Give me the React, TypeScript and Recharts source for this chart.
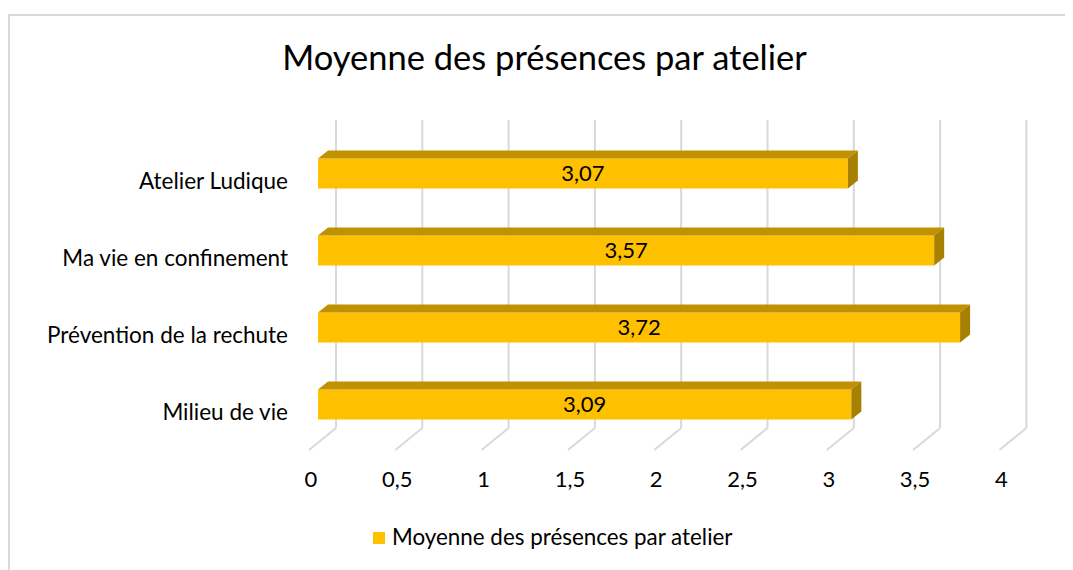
import React from "react";
import { BarChart, Bar, XAxis, YAxis, CartesianGrid, LabelList } from "recharts";

const categories = ["Atelier Ludique", "Ma vie en confinement", "Prévention de la rechute", "Milieu de vie"];
const moyennes = [3.07, 3.57, 3.72, 3.09];
const xTicks = [0, 0.5, 1, 1.5, 2, 2.5, 3, 3.5, 4];
const seriesName = "Moyenne des présences par atelier";
const chartTitle = "Moyenne des présences par atelier";

const data = categories.map((c, i) => ({ name: c, value: moyennes[i] }));

const FONT = "Lato, 'Open Sans', sans-serif";
const DX = 10;
const DY = 8;

const Bar3D = (props: any) => {
  const { x, y, width, height } = props;
  if (width == null || height == null) return null;
  return (
    <g>
      <rect x={x} y={y} width={width} height={height} fill="#FFC000" />
      <polygon
        points={`${x},${y} ${x + DX},${y - DY} ${x + width + DX},${y - DY} ${x + width},${y}`}
        fill="#C09100"
      />
      <polygon
        points={`${x + width},${y} ${x + width + DX},${y - DY} ${x + width + DX},${y + height - DY} ${x + width},${y + height}`}
        fill="#A88000"
      />
    </g>
  );
};

const GridLine = (p: any) => {
  const x = p.x1;
  return (
    <g key={`g-${x}`}>
      <line x1={x + 18} y1={112} x2={x + 18} y2={420} stroke="#D9D9D9" strokeWidth={2} />
      <line x1={x + 18} y1={420} x2={x - 9} y2={442} stroke="#D9D9D9" strokeWidth={2} />
    </g>
  );
};

const XTick = (p: any) => {
  const { x, payload } = p;
  return (
    <text x={x - 7} y={479} textAnchor="middle" fontSize={22} fill="#000" fontFamily={FONT}>
      {String(payload.value).replace(".", ",")}
    </text>
  );
};

const YTick = (p: any) => {
  const { y, payload } = p;
  return (
    <text x={280} y={y + 16} textAnchor="end" fontSize={22.5} fill="#000" fontFamily={FONT}>
      {payload.value}
    </text>
  );
};

export default function App() {
  return (
    <div style={{ position: "relative", width: 1065, height: 562, fontFamily: FONT }}>
      <div
        style={{
          position: "absolute",
          left: 0,
          top: 6,
          width: 1080,
          height: 600,
          borderLeft: "2px solid #D9D9D9",
          borderTop: "2px solid #D9D9D9",
          boxSizing: "border-box",
        }}
      />
      <div style={{ position: "absolute", left: 0, top: 0 }}>
        <BarChart
          width={1065}
          height={562}
          data={data}
          layout="vertical"
          margin={{ top: 126.5, right: 64.6, bottom: 67.5, left: 10 }}
        >
          <CartesianGrid horizontal={false} vertical={GridLine as any} />
          <XAxis
            type="number"
            domain={[0, 4]}
            ticks={xTicks}
            axisLine={false}
            tickLine={false}
            height={60}
            tick={XTick}
            interval={0}
          />
          <YAxis
            type="category"
            dataKey="name"
            width={300}
            axisLine={false}
            tickLine={false}
            tick={YTick}
            interval={0}
          />
          <Bar dataKey="value" name={seriesName} barSize={30} shape={Bar3D} isAnimationActive={false}>
            <LabelList
              dataKey="value"
              position="center"
              formatter={(v: any) => Number(v).toFixed(2).replace(".", ",")}
              style={{ fontSize: 22, fill: "#000", fontFamily: FONT }}
            />
          </Bar>
        </BarChart>
      </div>
      <svg
        width={1065}
        height={562}
        style={{ position: "absolute", left: 0, top: 0, pointerEvents: "none" }}
      >
        <text x={536.5} y={62} textAnchor="middle" fontSize={34.5} fill="#000" fontFamily={FONT}>
          {chartTitle}
        </text>
        <rect x={365} y={524} width={12} height={12} fill="#FFC000" />
        <text x={384} y={537} fontSize={22.4} fill="#000" fontFamily={FONT}>
          {seriesName}
        </text>
      </svg>
    </div>
  );
}
